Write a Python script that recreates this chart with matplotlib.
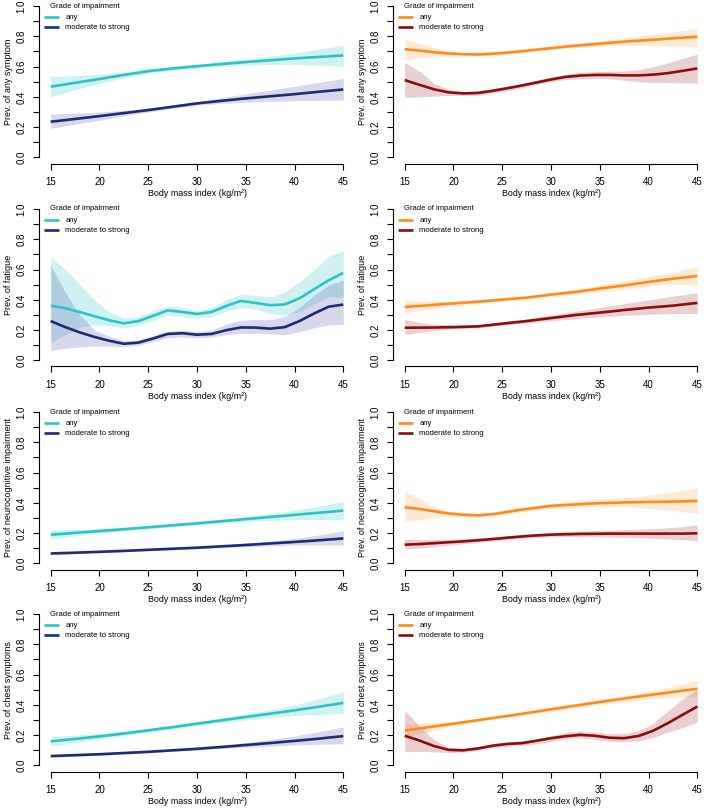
import matplotlib
matplotlib.use("Agg")
import matplotlib.pyplot as plt
import numpy as np

plt.rcParams['font.family'] = ['Liberation Sans', 'DejaVu Sans']

# x grids (BMI)
bmi_c = [15, 17.5, 20, 22.5, 25, 27.5, 30, 32.5, 35, 37.5, 40, 42.5, 45]
bmi_f = [15, 16.5, 18, 19.5, 21, 22.5, 24, 25.5, 27, 28.5, 30,
         31.5, 33, 34.5, 36, 37.5, 39, 40.5, 42, 43.5, 45]

# any symptom, left (coarse grid)
sym_l_any = [.467, .493, .518, .545, .570, .588, .603, .617, .630, .642, .654, .664, .674]
sym_l_any_lo = [.400, .448, .490, .525, .555, .574, .590, .601, .610, .614, .615, .610, .600]
sym_l_any_hi = [.537, .540, .550, .565, .585, .600, .615, .632, .650, .670, .690, .715, .742]
sym_l_mod = [.236, .254, .273, .293, .313, .335, .357, .374, .390, .404, .418, .434, .449]
sym_l_mod_lo = [.192, .220, .245, .275, .300, .323, .345, .357, .365, .371, .375, .377, .379]
sym_l_mod_hi = [.286, .292, .300, .311, .325, .345, .370, .394, .420, .445, .470, .496, .522]

# any symptom, right (fine grid)
sym_r_any = [.716, .706, .695, .687, .682, .680, .685, .692, .702, .712, .722,
             .732, .741, .749, .757, .765, .771, .777, .785, .791, .797]
sym_r_any_hi = [.780, .755, .725, .700, .690, .690, .695, .703, .712, .722, .735,
                .745, .756, .767, .778, .790, .802, .814, .826, .839, .852]
sym_r_any_lo = [.643, .660, .668, .670, .670, .670, .675, .683, .692, .702, .710,
                .720, .728, .733, .737, .740, .741, .740, .737, .734, .731]
sym_r_mod = [.511, .480, .450, .430, .423, .426, .440, .457, .475, .495, .515,
             .532, .541, .545, .545, .542, .542, .547, .557, .572, .588]
sym_r_mod_hi = [.626, .570, .490, .450, .435, .440, .455, .470, .490, .510, .530,
                .550, .562, .567, .570, .570, .580, .600, .625, .655, .683]
sym_r_mod_lo = [.396, .400, .405, .410, .410, .410, .425, .440, .460, .480, .500,
                .515, .520, .523, .520, .510, .500, .495, .494, .493, .489]

# fatigue, left (fine grid)
fat_l_any = [.362, .345, .320, .292, .265, .245, .260, .295, .331, .320, .307,
             .320, .360, .393, .380, .365, .370, .410, .470, .530, .578]
fat_l_any_hi = [.684, .600, .500, .400, .320, .280, .290, .330, .360, .350, .330,
                .350, .400, .440, .430, .420, .450, .520, .600, .690, .724]
fat_l_any_lo = [.120, .170, .220, .235, .230, .215, .230, .265, .300, .290, .280,
                .290, .325, .350, .340, .310, .300, .320, .370, .420, .420]
fat_l_mod = [.260, .220, .185, .155, .130, .110, .118, .145, .175, .180, .170,
             .175, .200, .218, .217, .210, .220, .260, .310, .355, .369]
fat_l_mod_hi = [.630, .450, .300, .200, .160, .130, .135, .165, .195, .200, .190,
                .200, .240, .265, .270, .270, .290, .350, .430, .500, .530]
fat_l_mod_lo = [.066, .080, .090, .095, .095, .090, .100, .125, .150, .155, .150,
                .155, .170, .180, .180, .175, .170, .190, .215, .235, .238]

# fatigue, right (coarse grid)
fat_r_any = [.353, .365, .377, .388, .402, .415, .435, .452, .475, .495, .519, .540, .558]
fat_r_any_hi = [.397, .390, .390, .400, .410, .425, .448, .470, .500, .525, .555, .585, .618]
fat_r_any_lo = [.313, .340, .360, .375, .390, .405, .422, .437, .455, .470, .490, .505, .497]
fat_r_mod = [.216, .217, .220, .225, .243, .260, .280, .300, .316, .333, .349, .362, .380]
fat_r_mod_hi = [.270, .240, .235, .235, .255, .275, .300, .325, .350, .375, .400, .425, .448]
fat_r_mod_lo = [.172, .195, .208, .215, .232, .248, .262, .276, .288, .298, .305, .310, .310]

# neurocognitive impairment, left (coarse grid)
neu_l_any = [.190, .202, .214, .226, .239, .252, .265, .279, .293, .307, .321, .335, .349]
neu_l_any_hi = [.221, .225, .230, .238, .248, .261, .276, .292, .310, .330, .350, .378, .410]
neu_l_any_lo = [.161, .182, .200, .215, .228, .241, .254, .266, .278, .285, .290, .290, .289]
neu_l_mod = [.066, .071, .077, .083, .090, .097, .104, .113, .122, .132, .142, .153, .165]
neu_l_mod_hi = [.075, .080, .085, .090, .096, .104, .112, .122, .134, .148, .165, .188, .216]
neu_l_mod_lo = [.057, .064, .070, .077, .084, .090, .097, .104, .110, .116, .122, .122, .121]

# neurocognitive impairment, right (fine grid)
neu_r_any = [.371, .360, .345, .330, .322, .318, .325, .340, .355, .368, .380,
             .386, .392, .397, .400, .403, .405, .406, .408, .410, .413]
neu_r_any_hi = [.477, .430, .375, .345, .335, .330, .340, .355, .372, .385, .397,
                .405, .413, .420, .428, .435, .443, .455, .468, .483, .499]
neu_r_any_lo = [.278, .290, .305, .310, .308, .305, .312, .325, .340, .352, .362,
                .368, .372, .375, .375, .372, .368, .360, .350, .340, .331]
neu_r_mod = [.124, .128, .134, .140, .146, .153, .161, .170, .178, .185, .190,
             .193, .195, .196, .197, .197, .197, .197, .197, .197, .199]
neu_r_mod_hi = [.161, .158, .158, .160, .163, .168, .175, .183, .192, .200, .206,
                .211, .215, .218, .220, .223, .226, .230, .236, .243, .256]
neu_r_mod_lo = [.095, .102, .112, .120, .130, .139, .148, .157, .165, .172, .176,
                .178, .178, .177, .175, .172, .170, .166, .162, .157, .150]

# chest symptoms, left (coarse grid)
che_l_any = [.159, .175, .192, .211, .232, .253, .276, .298, .320, .342, .364, .388, .413]
che_l_any_hi = [.192, .200, .212, .227, .245, .266, .290, .314, .340, .368, .400, .440, .486]
che_l_any_lo = [.128, .150, .172, .195, .218, .240, .262, .282, .300, .316, .330, .337, .342]
che_l_mod = [.062, .068, .074, .082, .090, .100, .110, .122, .135, .148, .162, .177, .194]
che_l_mod_hi = [.070, .076, .082, .089, .097, .108, .120, .134, .150, .170, .195, .223, .254]
che_l_mod_lo = [.054, .060, .067, .075, .083, .092, .101, .111, .120, .128, .135, .140, .143]

# chest symptoms, right (fine grid)
che_r_any = [.230, .244, .258, .271, .285, .299, .313, .327, .341, .356, .371,
             .385, .400, .414, .428, .442, .455, .468, .481, .494, .506]
che_r_any_hi = [.272, .275, .280, .286, .296, .307, .320, .334, .348, .363, .383,
                .398, .414, .430, .446, .462, .478, .496, .516, .538, .563]
che_r_any_lo = [.188, .210, .232, .254, .272, .289, .304, .318, .331, .344, .358,
                .371, .385, .398, .410, .421, .432, .441, .447, .451, .453]
che_r_mod = [.196, .165, .128, .103, .100, .112, .130, .142, .147, .163, .180,
             .193, .202, .196, .183, .180, .195, .230, .280, .335, .389]
che_r_mod_hi = [.364, .260, .170, .120, .112, .125, .145, .157, .163, .175, .197,
                .218, .228, .222, .210, .210, .230, .280, .360, .440, .500]
che_r_mod_lo = [.093, .093, .090, .085, .087, .099, .115, .127, .132, .142, .158,
                .175, .182, .172, .160, .155, .163, .185, .220, .250, .287]

ylabels = ['Prev. of any symptom', 'Prev. of fatigue',
           'Prev. of neurocognitive impairment', 'Prev. of chest symptoms']

panels = [
    [(bmi_c, sym_l_any, sym_l_any_lo, sym_l_any_hi, sym_l_mod, sym_l_mod_lo, sym_l_mod_hi),
     (bmi_f, sym_r_any, sym_r_any_lo, sym_r_any_hi, sym_r_mod, sym_r_mod_lo, sym_r_mod_hi)],
    [(bmi_f, fat_l_any, fat_l_any_lo, fat_l_any_hi, fat_l_mod, fat_l_mod_lo, fat_l_mod_hi),
     (bmi_c, fat_r_any, fat_r_any_lo, fat_r_any_hi, fat_r_mod, fat_r_mod_lo, fat_r_mod_hi)],
    [(bmi_c, neu_l_any, neu_l_any_lo, neu_l_any_hi, neu_l_mod, neu_l_mod_lo, neu_l_mod_hi),
     (bmi_f, neu_r_any, neu_r_any_lo, neu_r_any_hi, neu_r_mod, neu_r_mod_lo, neu_r_mod_hi)],
    [(bmi_c, che_l_any, che_l_any_lo, che_l_any_hi, che_l_mod, che_l_mod_lo, che_l_mod_hi),
     (bmi_f, che_r_any, che_r_any_lo, che_r_any_hi, che_r_mod, che_r_mod_lo, che_r_mod_hi)],
]

# colours: (any, moderate to strong) per column
col_colors = [('#2CC3C3', '#1E2A72'), ('#FF8A1C', '#8A0E0E')]
band_colors = [('#2CC3C3', '#4A4FA8'), ('#FFA040', '#9A2A2A')]

W, H = 709, 810
fig = plt.figure(figsize=(W / 100, H / 100), dpi=100)

col_left = [39, 393]
row_top = [0, 203, 406, 608]
ax_w, ax_h = 316, 163.5

for r in range(4):
    for c in range(2):
        x, a, alo, ahi, m, mlo, mhi = panels[r][c]
        ax = fig.add_axes([col_left[c] / W, 1 - (row_top[r] + ax_h) / H, ax_w / W, ax_h / H])
        ca, cm = col_colors[c]
        ba, bm = band_colors[c]
        ax.fill_between(x, alo, ahi, color=ba, alpha=0.22, linewidth=0)
        ax.fill_between(x, mlo, mhi, color=bm, alpha=0.22, linewidth=0)
        ax.plot(x, a, color=ca, lw=1.9, solid_capstyle='butt', label='any')
        ax.plot(x, m, color=cm, lw=1.9, solid_capstyle='butt', label='moderate to strong')

        ax.set_xlim(15 - 1.2, 45 + 1.2)
        ax.set_ylim(-0.04, 1.04)
        for s in ['top', 'right']:
            ax.spines[s].set_visible(False)
        ax.spines['left'].set_bounds(0, 1)
        ax.spines['bottom'].set_bounds(15, 45)
        ax.spines['left'].set_linewidth(0.8)
        ax.spines['bottom'].set_linewidth(0.8)

        ax.set_xticks([15, 20, 25, 30, 35, 40, 45])
        ax.set_yticks([0.0, 0.2, 0.4, 0.6, 0.8, 1.0])
        ax.set_yticklabels(['0.0', '0.2', '0.4', '0.6', '0.8', '1.0'], rotation=90, va='center')
        ax.set_yticks([0.1, 0.3, 0.5, 0.7, 0.9], minor=True)
        ax.tick_params(axis='both', which='both', length=4, width=0.8, labelsize=7)
        ax.tick_params(axis='x', pad=6)
        ax.tick_params(axis='y', pad=5)

        ax.set_xlabel('Body mass index (kg/m²)', fontsize=6.4, labelpad=1.5)
        ax.set_ylabel(ylabels[r], fontsize=6.5, labelpad=2.5)

        # legend title drawn separately, indented like the original
        ax.text(0.035, 1 - 6 / ax_h, 'Grade of impairment', transform=ax.transAxes,
                fontsize=5.5, ha='left', va='center')
        ax.legend(loc='upper left', bbox_to_anchor=(0.016, 1 - 14 / ax_h),
                  frameon=False, fontsize=5.5, handlelength=2.0, handletextpad=0.8,
                  labelspacing=0.35, borderaxespad=0, borderpad=0)

fig.savefig('out.png', dpi=100)
